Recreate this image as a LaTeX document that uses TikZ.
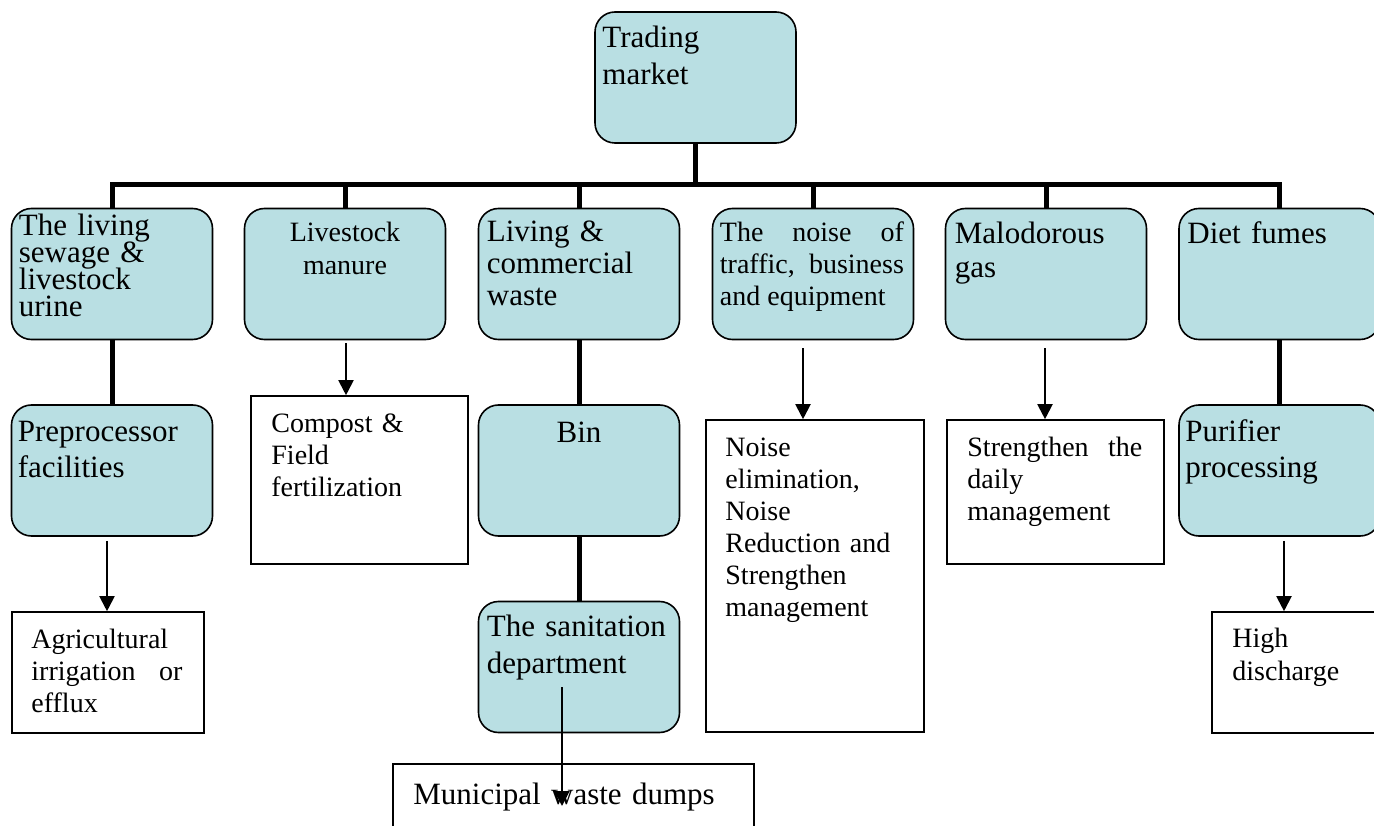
\documentclass[tikz,border=0pt]{standalone}
\usepackage{fontspec}
\setmainfont{Liberation Serif}
\usetikzlibrary{arrows.meta}
\definecolor{boxcyan}{RGB}{185,223,227}
\begin{document}
\begin{tikzpicture}[x=1pt,y=-1pt,
  cbox/.style={draw, fill=boxcyan, line width=1.6pt, rounded corners=20pt,
    minimum width=201pt, minimum height=131pt, inner sep=0pt},
  wbox/.style={draw, fill=white, line width=1.6pt, inner sep=0pt},
  big/.style={font=\fontsize{31}{37}\selectfont, inner sep=0pt,
    anchor=base west, text width=190pt, align=left},
  small/.style={font=\fontsize{28}{32}\selectfont, inner sep=0pt,
    anchor=base west, text width=190pt, align=left},
  trunk/.style={line width=5pt},
  flow/.style={line width=2pt, -{Triangle[length=15pt,width=15pt]}},
]
\useasboundingbox (0,0) rectangle (1374,826);

% rounded source boxes
\node[cbox] (tm)  at (695.5,77.5) {};
\node[cbox] (ls)  at (112,274) {};
\node[cbox] (lm)  at (345,274) {};
\node[cbox] (lc)  at (579,274) {};
\node[cbox] (nt)  at (813,274) {};
\node[cbox] (mg)  at (1046,274) {};
\node[cbox] (df)  at (1279.5,274) {};
\node[cbox] (pf)  at (112,470.5) {};
\node[cbox] (bin) at (579,470.5) {};
\node[cbox] (pp)  at (1279.5,470.5) {};
\node[cbox] (sa)  at (579,667) {};

% plain result boxes
\node[wbox, minimum width=217pt, minimum height=168pt] (cf) at (359.5,480) {};
\node[wbox, minimum width=218pt, minimum height=312pt] (ne) at (815,576) {};
\node[wbox, minimum width=217pt, minimum height=144pt] (sd) at (1055.5,492) {};
\node[wbox, minimum width=192pt, minimum height=121pt] (ag) at (108,672.5) {};
\node[wbox, minimum width=173pt, minimum height=121pt] (hd) at (1298.5,672.5) {};
\node[wbox, minimum width=361pt, minimum height=86pt]  (mw) at (573.5,807) {};

% texts
\node[big] (tm-t) at ([xshift=8pt,yshift=-36pt]tm.north west) {Trading\\market};
\node[big, font=\fontsize{31}{26.8}\selectfont] (ls-t) at ([xshift=8pt,yshift=-28pt]ls.north west)
  {\lineskiplimit=-50pt The living\\sewage \&\\livestock\\urine};
\node[small, font=\fontsize{28}{33}\selectfont, anchor=base, align=center] (lm-t)
  at ([yshift=-34pt]lm.north) {Livestock\\manure};
\node[big, font=\fontsize{31}{32}\selectfont] (lc-t) at ([xshift=9pt,yshift=-34pt]lc.north west)
  {Living \&\\commercial\\waste};
\node[small, text width=184pt, align=justify] (nt-t) at ([xshift=8pt,yshift=-34pt]nt.north west)
  {The noise of\linebreak traffic, business\linebreak and equipment};
\node[big, font=\fontsize{31}{34}\selectfont] (mg-t) at ([xshift=10pt,yshift=-36pt]mg.north west)
  {Malodorous\\gas};
\node[big] (df-t) at ([xshift=9pt,yshift=-36pt]df.north west) {Diet fumes};
\node[big, font=\fontsize{31}{36.5}\selectfont] (pf-t) at ([xshift=7pt,yshift=-37pt]pf.north west)
  {Preprocessor\\facilities};
\node[small] (cf-t) at ([xshift=21pt,yshift=-37pt]cf.north west) {Compost \&\\Field\\fertilization};
\node[big, anchor=base, align=center] (bin-t) at ([yshift=-38pt]bin.north) {Bin};
\node[small] (ne-t) at ([xshift=20pt,yshift=-37pt]ne.north west)
  {Noise\\elimination,\\Noise\\Reduction and\\Strengthen\\management};
\node[small, text width=175pt, align=justify] (sd-t) at ([xshift=21pt,yshift=-37pt]sd.north west)
  {Strengthen the\linebreak daily\linebreak management};
\node[big, font=\fontsize{31}{36.5}\selectfont] (pp-t) at ([xshift=7pt,yshift=-37pt]pp.north west)
  {Purifier\\processing};
\node[small, text width=151pt, align=justify] (ag-t) at ([xshift=20pt,yshift=-37pt]ag.north west)
  {Agricultural\linebreak irrigation or\linebreak efflux};
\node[big] (sa-t) at ([xshift=9pt,yshift=-36pt]sa.north west) {The sanitation\\department};
\node[big, text width=340pt] (mw-t) at ([xshift=21pt,yshift=-41pt]mw.north west) {Municipal waste dumps};
\node[small, font=\fontsize{28}{33}\selectfont, text width=150pt] (hd-t)
  at ([xshift=21pt,yshift=-36pt]hd.north west) {High\\discharge};

% thick tree lines
\foreach \c in {ls,lm,lc,nt,mg,df}
  \draw[trunk] (tm.south) -- ++(0,41) -| (\c.north);
\draw[trunk] (ls.south) -- (pf.north);
\draw[trunk] (lc.south) -- (bin.north);
\draw[trunk] (bin.south) -- (sa.north);
\draw[trunk] (df.south) -- (pp.north);

% thin arrows
\draw[flow] ([xshift=1pt,yshift=-3pt]lm.south) -- ([xshift=-13.5pt]cf.north);
\draw[flow] ([xshift=-10pt,yshift=-8pt]nt.south) -- ([xshift=-12pt]ne.north);
\draw[flow] ([xshift=-1pt,yshift=-8pt]mg.south) -- ([xshift=-10.5pt]sd.north);
\draw[flow] ([xshift=-5pt,yshift=-4pt]pf.south) -- ([xshift=-1pt]ag.north);
\draw[flow] ([xshift=4.5pt,yshift=-4pt]pp.south) -- ([xshift=-14.5pt]hd.north);
\draw[flow] ([xshift=-17pt,yshift=-20pt]sa.center) -- ([xshift=-11.5pt,yshift=1pt]mw.center);
\end{tikzpicture}
\end{document}
